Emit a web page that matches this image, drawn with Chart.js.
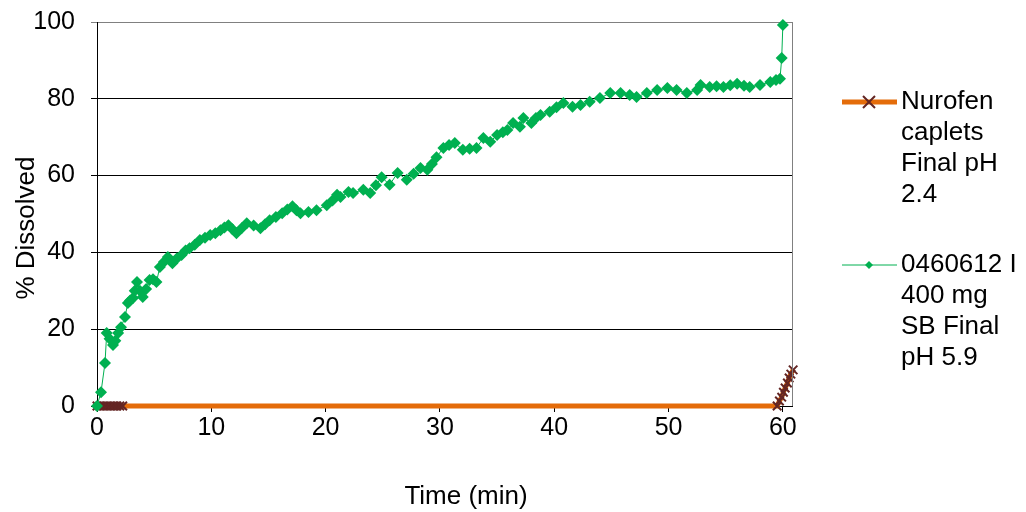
<!DOCTYPE html>
<html><head><meta charset="utf-8">
<script src="https://cdn.jsdelivr.net/npm/chart.js@4.4.1/dist/chart.umd.min.js"></script>
<style>html,body{margin:0;padding:0;background:#fff;overflow:hidden}#wrap{width:1026px;height:512px;position:relative}</style>
</head><body><div id="wrap"><canvas id="c"></canvas></div>
<script>
// ---- data ----
const nurofenTime  = [0, 0.25, 0.5, 0.75, 1.0, 1.25, 1.5, 1.75, 2.0, 2.25, 59.5, 59.7, 59.9, 60.05, 60.2, 60.4, 60.55, 60.7, 60.9];
const nurofenValue = [0, 0, 0, 0, 0, 0, 0, 0, 0, 0, 0, 1.3, 2.3, 3.6, 4.7, 6.0, 7.3, 8.3, 9.4];

const sbTime = [0, 0.35, 0.7, 0.85, 1.1, 1.4, 1.6, 1.85, 2.1, 2.45, 2.7, 2.9, 3.15, 3.3, 3.5, 3.75, 4.0, 4.3, 4.6, 4.9,
  5.2, 5.5, 5.85, 6.2, 6.6, 7.0, 7.4, 7.75, 8.1, 8.55, 9.0, 9.45, 9.9, 10.35, 10.8, 11.15, 11.5, 11.85, 12.2, 12.65,
  13.1, 13.7, 14.3, 14.7, 15.1, 15.65, 16.2, 16.65, 17.1, 17.45, 17.8, 18.5, 19.2, 20.1, 20.6, 21.0, 21.3, 22.0, 22.4, 23.3,
  23.9, 24.4, 24.9, 25.6, 26.3, 27.1, 27.7, 28.3, 28.9, 29.3, 29.7, 30.3, 30.8, 31.3, 32.0, 32.6, 33.2, 33.8, 34.4, 35.0,
  35.5, 35.9, 36.4, 37.0, 37.3, 38.0, 38.4, 38.8, 39.6, 40.2, 40.8, 41.6, 42.3, 43.1, 44.0, 44.9, 45.8, 46.6, 47.2, 48.1,
  49.0, 49.9, 50.7, 51.6, 52.5, 52.8, 53.6, 54.2, 54.8, 55.4, 56.0, 56.6, 57.1, 58.0, 58.9, 59.4, 59.75, 59.9, 60.0];
const sbValue = [0, 3.6, 11.2, 19, 17.5, 15.9, 17, 19, 20.5, 23.2, 26.8, 27.5, 28.1, 30, 32.3, 30, 28.4, 30.5, 32.8, 33,
  32.3, 36.2, 37.5, 38.8, 37.2, 38.5, 39.3, 40.5, 41.1, 42, 43.2, 43.8, 44.5, 45, 45.8, 46.5, 47.1, 46, 45, 46.3,
  47.6, 47, 46.3, 47.3, 48.4, 49.2, 50.2, 51.2, 52, 51, 50.2, 50.5, 51, 52.3, 53.5, 55, 54.4, 55.7, 55.5, 56.3,
  55.5, 57.5, 59.6, 57.6, 60.7, 58.9, 60.5, 62, 61.5, 63, 64.8, 67.2, 68, 68.5, 66.7, 67, 67.2, 69.8, 68.8, 70.6,
  71.3, 71.9, 73.7, 72.7, 75, 73.7, 75, 75.8, 76.6, 77.8, 78.9, 77.9, 78.4, 79.2, 80.2, 81.5, 81.5, 81, 80.5, 81.5,
  82.3, 82.8, 82.3, 81.5, 82.3, 83.6, 83.1, 83.3, 83.1, 83.5, 83.9, 83.4, 83.1, 83.6, 84.4, 84.9, 85.2, 90.6, 99.2];

const seriesNames = [['Nurofen', 'caplets', 'Final pH', '2.4'], ['0460612 I', '400 mg', 'SB Final', 'pH 5.9']];
const xTicks = [0, 10, 20, 30, 40, 50, 60];
const yTicks = [0, 20, 40, 60, 80, 100];
const xTitle = 'Time (min)';
const yTitle = '% Dissolved';

// ---- styles ----
const ORANGE = '#E46C0A';
const BROWN = '#632523';
const GREEN = '#00B050';
const FONT = '"Liberation Sans", Arial, sans-serif';
const FS_TICK = 25;
const FS_TEXT = 26;

const toPts = (t, v) => t.map((x, i) => ({x, y: v[i]}));

const overlay = {
  id: 'overlay',
  afterDraw(chart) {
    const ctx = chart.ctx, a = chart.chartArea;
    ctx.save();
    // right border
    ctx.strokeStyle = '#808080'; ctx.lineWidth = 1;
    ctx.beginPath(); ctx.moveTo(Math.round(a.right) + 0.5, a.top); ctx.lineTo(Math.round(a.right) + 0.5, a.bottom); ctx.stroke();
    ctx.font = FS_TEXT + 'px ' + FONT; ctx.fillStyle = '#000'; ctx.textBaseline = 'middle';
    // axis titles
    ctx.textAlign = 'center';
    ctx.fillText(xTitle, 466, 497);
    ctx.save(); ctx.translate(27, 228); ctx.rotate(-Math.PI / 2); ctx.fillText(yTitle, 0, 0); ctx.restore();
    // legend
    ctx.textAlign = 'left';
    const ents = [{y: 102, ds: chart.data.datasets[0]}, {y: 265, ds: chart.data.datasets[1]}];
    ents.forEach((e, k) => {
      const ds = e.ds;
      ctx.strokeStyle = ds.borderColor; ctx.lineWidth = ds.borderWidth;
      ctx.beginPath(); ctx.moveTo(842, e.y); ctx.lineTo(897, e.y); ctx.stroke();
      if (k === 0) {
        ctx.strokeStyle = BROWN; ctx.lineWidth = 2;
        ctx.beginPath(); ctx.moveTo(863, e.y - 6); ctx.lineTo(875, e.y + 6); ctx.moveTo(875, e.y - 6); ctx.lineTo(863, e.y + 6); ctx.stroke();
      } else {
        ctx.fillStyle = GREEN;
        ctx.beginPath(); ctx.moveTo(869, e.y - 4); ctx.lineTo(873, e.y); ctx.lineTo(869, e.y + 4); ctx.lineTo(865, e.y); ctx.closePath(); ctx.fill();
      }
      ctx.fillStyle = '#000';
      seriesNames[k].forEach((s, i) => ctx.fillText(s, 901, e.y + i * 31));
    });
    ctx.restore();
  }
};

new Chart(document.getElementById('c'), {
  type: 'line',
  data: {
    datasets: [
      {label: seriesNames[0].join(' '), data: toPts(nurofenTime, nurofenValue), borderColor: ORANGE, borderWidth: 5,
       pointStyle: 'crossRot', pointRadius: 6, pointBorderColor: BROWN, pointBorderWidth: 2, pointBackgroundColor: BROWN,
       tension: 0, order: 1, clip: false},
      {label: seriesNames[1].join(' '), data: toPts(sbTime, sbValue), borderColor: GREEN, borderWidth: 1,
       pointStyle: 'rectRot', pointRadius: 6, pointBorderColor: GREEN, pointBorderWidth: 0, pointBackgroundColor: GREEN,
       tension: 0, order: 0, clip: false}
    ]
  },
  options: {
    responsive: true, maintainAspectRatio: false, animation: false,
    layout: {padding: {top: 22, right: 234, left: 0, bottom: 0}},
    plugins: {legend: {display: false}, tooltip: {enabled: false}},
    scales: {
      x: {
        type: 'linear', min: 0, max: 60.8,
        afterBuildTicks: s => { s.ticks = xTicks.map(v => ({value: v})); },
        afterFit: s => { s.height = 106; s.paddingLeft = 0; s.paddingRight = 0; },
        ticks: {color: '#000', font: {family: FONT, size: FS_TICK}, padding: 1, maxRotation: 0, autoSkip: false},
        grid: {drawOnChartArea: false, drawTicks: true, tickLength: 6, color: '#000'},
        border: {display: true, color: '#000', width: 1}
      },
      y: {
        min: 0, max: 100,
        afterBuildTicks: s => { s.ticks = yTicks.map(v => ({value: v})); },
        afterFit: s => { s.width = 97; s.paddingTop = 0; s.paddingBottom = 0; },
        ticks: {color: '#000', font: {family: FONT, size: FS_TICK}, padding: 16},
        grid: {color: c => c.tick && c.tick.value === 100 ? '#808080' : '#000', tickLength: 6, drawTicks: true},
        border: {display: true, color: '#000', width: 1}
      }
    }
  },
  plugins: [overlay]
});
</script></body></html>
